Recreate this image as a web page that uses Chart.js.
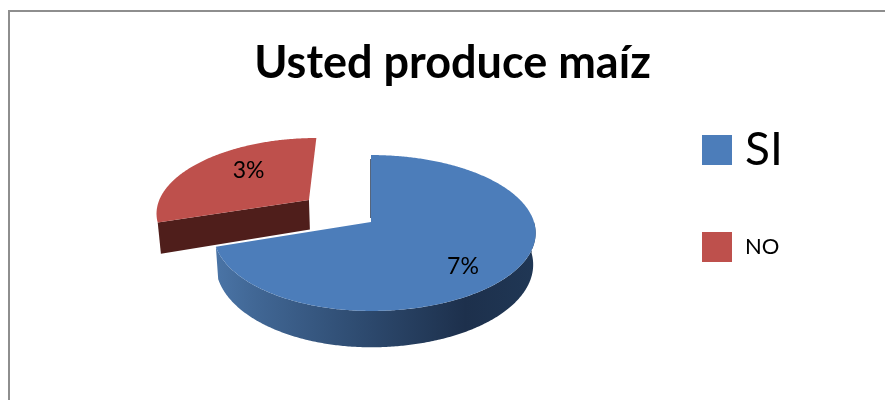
<!DOCTYPE html>
<html>
<head>
<meta charset="utf-8">
<style>
html,body{margin:0;padding:0;background:#fff;overflow:hidden}
#wrap{position:relative;width:885px;height:400px}
#frame{position:absolute;left:8px;top:10px;right:-4px;bottom:-4px;border:2px solid #8e8e8e;box-sizing:border-box}
canvas{position:absolute;left:0;top:0}
</style>
</head>
<body>
<div id="wrap"><div id="frame"></div><canvas id="c" width="885" height="400"></canvas></div>
<script src="https://cdn.jsdelivr.net/npm/chart.js@4"></script>
<script>
const categories = ['SI', 'NO'];
const values = [7, 3];
const valueLabels = ['7%', '3%'];
const titleText = 'Usted produce maíz';
const sliceColors = ['#4c7dba', '#be504c'];

const FONT = 'Lato, "Noto Sans", sans-serif';
// projected pie: circle units -> screen (mild perspective)
const CX = 371, CY = 222, RX_L = 156, RX_R = 163, A = 76.4, B = -0.141;
function topPt(ux, uy) {
  const d = 1 + B * uy;
  return [CX + ux * (ux < 0 ? RX_L : RX_R) / d, CY + A * uy / d];
}
function botPt(ux, uy) {
  const d = 1 + B * uy;
  return [CX + 0.985 * ux * (ux < 0 ? RX_L : RX_R) / d, CY + 1.06 * A * uy / d + 31];
}
function arcGeom(arc) {
  const mid = (arc.startAngle + arc.endAngle) / 2;
  const off = (arc.options.offset || 0) / arc.outerRadius;
  return { ox: Math.cos(mid) * off, oy: Math.sin(mid) * off, mid };
}
function rimPts(g, a0, a1, map) {
  const pts = [], n = Math.max(2, Math.ceil(Math.abs(a1 - a0) / 0.01));
  for (let i = 0; i <= n; i++) {
    const t = a0 + (a1 - a0) * i / n;
    pts.push(map(g.ox + Math.cos(t), g.oy + Math.sin(t)));
  }
  return pts;
}
function fillPoly(ctx, pts, fill) {
  ctx.beginPath();
  pts.forEach((p, i) => i ? ctx.lineTo(p[0], p[1]) : ctx.moveTo(p[0], p[1]));
  ctx.closePath();
  ctx.fillStyle = fill;
  ctx.fill();
}
const pie3d = {
  id: 'pie3d',
  beforeDatasetsDraw(chart) {
    const ctx = chart.ctx;
    const [blue, red] = chart.getDatasetMeta(0).data;
    ctx.save();

    // red slice: cut face, top
    const gr = arcGeom(red);
    const cut = [topPt(gr.ox, gr.oy),
      ...rimPts(gr, red.startAngle, red.startAngle, topPt),
      ...rimPts(gr, red.startAngle, red.startAngle, botPt),
      botPt(gr.ox, gr.oy)];
    fillPoly(ctx, cut, '#4f1e1b');
    fillPoly(ctx, [topPt(gr.ox, gr.oy), ...rimPts(gr, red.startAngle, red.endAngle, topPt)], red.options.backgroundColor);

    // blue slice: outer wall with gradient, top
    const gb = arcGeom(blue);
    const wallStart = 0, wallEnd = blue.endAngle;
    const grad = ctx.createLinearGradient(216, 0, 536, 0);
    grad.addColorStop(0, '#4a74a6');
    grad.addColorStop(0.12, '#416795');
    grad.addColorStop(0.45, '#2e4b70');
    grad.addColorStop(0.78, '#1d304c');
    grad.addColorStop(1, '#203755');
    fillPoly(ctx, [...rimPts(gb, wallStart, wallEnd, topPt), ...rimPts(gb, wallEnd, wallStart, botPt)], grad);
    fillPoly(ctx, [topPt(gb.ox, gb.oy), ...rimPts(gb, blue.startAngle, blue.endAngle, topPt)], blue.options.backgroundColor);
    // thin dark cut edge on the vertical side
    const tp = topPt(Math.cos(blue.startAngle), Math.sin(blue.startAngle));
    const ap = topPt(gb.ox, gb.oy);
    ctx.beginPath();
    ctx.moveTo(tp[0] - 0.5, tp[1] + 4);
    ctx.lineTo(ap[0] - 0.5, ap[1] - 4);
    ctx.strokeStyle = 'rgba(30,50,80,0.75)';
    ctx.lineWidth = 1;
    ctx.stroke();

    // value labels
    const place = [{ r: 0.746, da: 0.168, dy: 1 }, { r: 0.62, da: 0.13, dy: -1 }];
    ctx.fillStyle = '#000';
    ctx.font = '23px ' + FONT;
    ctx.textAlign = 'center';
    ctx.textBaseline = 'middle';
    [blue, red].forEach((arc, i) => {
      const g = arcGeom(arc);
      const t = g.mid + place[i].da;
      const p = topPt(g.ox + place[i].r * Math.cos(t), g.oy + place[i].r * Math.sin(t));
      ctx.fillText(valueLabels[i], p[0], p[1] + place[i].dy);
    });
    ctx.restore();
    return false;
  }
};
const sideLegend = {
  id: 'sideLegend',
  afterDraw(chart) {
    const ctx = chart.ctx;
    const rows = [{ y: 135, font: 46, ty: 150 }, { y: 232, font: 22, ty: 247 }];
    ctx.save();
    ctx.textAlign = 'left';
    ctx.textBaseline = 'middle';
    categories.forEach((name, i) => {
      ctx.fillStyle = sliceColors[i];
      ctx.fillRect(702, rows[i].y, 30, 30);
      ctx.fillStyle = '#000';
      ctx.font = rows[i].font + 'px ' + FONT;
      ctx.fillText(name, 745, rows[i].ty);
    });
    ctx.restore();
  }
};
new Chart(document.getElementById('c'), {
  type: 'pie',
  data: {
    labels: categories,
    datasets: [{ data: values, backgroundColor: sliceColors, borderWidth: 0, offset: [0, 82] }]
  },
  options: {
    responsive: false,
    animation: false,
    radius: 160,
    layout: { padding: { left: 20, top: 36 } },
    plugins: {
      legend: { display: false },
      tooltip: { enabled: false },
      title: {
        display: true,
        text: titleText,
        color: '#000',
        font: { family: FONT, size: 45, weight: 'bold' },
        padding: { top: 0, bottom: 10 }
      }
    }
  },
  plugins: [pie3d, sideLegend]
});
</script>
</body>
</html>
